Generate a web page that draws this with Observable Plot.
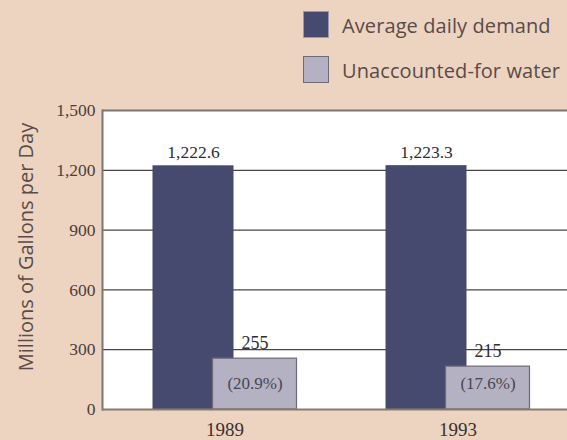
<!DOCTYPE html>
<html>
<head>
<meta charset="utf-8">
<script src="https://cdn.jsdelivr.net/npm/d3@7"></script>
<script src="https://cdn.jsdelivr.net/npm/@observablehq/plot@0.6"></script>
<style>
  html, body { margin: 0; padding: 0; background: #ecd4c1; }
  #wrap { width: 567px; height: 440px; position: relative; overflow: hidden; }
  #legend { position: relative; height: 100px; font-family: "Open Sans", sans-serif; color: #5a4a48; }
  .item { position: absolute; left: 303px; display: flex; align-items: center; }
  .sw { width: 26px; height: 27px; box-sizing: border-box; margin-right: 13px; }
  .lab { font-size: 20px; letter-spacing: 0.1px; white-space: nowrap; padding-top: 3px; }
  svg { display: block; }
</style>
</head>
<body>
<div id="wrap">
  <div id="legend"></div>
  <div id="chart"></div>
</div>
<script>
const years = ["1989", "1993"];
const seriesNames = ["Average daily demand", "Unaccounted-for water"];
const demand = [1222.6, 1223.3];
const unaccounted = [255, 215];
const unaccountedPct = ["(20.9%)", "(17.6%)"];
const demandLabels = ["1,222.6", "1,223.3"];
const yTicks = [0, 300, 600, 900, 1200, 1500];
const gridTicks = [300, 600, 900, 1200];
const yTitle = "Millions of Gallons per Day";

const colors = {dark: "#464a6f", light: "#b4b1c3", lightStroke: "#6e6a7a"};

// legend
const legend = document.getElementById("legend");
[[seriesNames[0], colors.dark, "#9a98aa", 9], [seriesNames[1], colors.light, colors.lightStroke, 54]].forEach(([name, fill, stroke, top]) => {
  const d = document.createElement("div");
  d.className = "item";
  d.style.top = top + "px";
  d.innerHTML = `<div class="sw" style="background:${fill};border:1.5px solid ${stroke}"></div><div class="lab">${name}</div>`;
  legend.appendChild(d);
});

const demandData = years.map((y, i) => ({year: y, value: demand[i], label: demandLabels[i]}));
const unaccData = years.map((y, i) => ({year: y, value: unaccounted[i], label: String(unaccounted[i]), pct: unaccountedPct[i]}));

const serif = "'Liberation Serif', 'DejaVu Serif', serif";

const chart = Plot.plot({
  width: 567,
  height: 340,
  marginTop: 10,
  marginBottom: 31,
  marginLeft: 102,
  marginRight: 0,
  style: {background: "transparent", overflow: "visible"},
  x: {type: "band", domain: years, range: [107.5, 573.5], padding: 0},
  y: {domain: [0, 1500], range: [309, 10]},
  marks: [
    Plot.frame({fill: "white", stroke: null}),
    Plot.ruleY(gridTicks, {stroke: "#4a4444", strokeWidth: 1.3}),
    Plot.ruleY([1500], {stroke: "#7d7572", strokeWidth: 2}),
    Plot.frame({anchor: "left", stroke: "#7d7572", strokeWidth: 2}),
    Plot.barY(demandData, {x: "year", y: "value", fill: colors.dark, insetLeft: 44.5, insetRight: 107.5}),
    Plot.barY(unaccData, {x: "year", y: "value", fill: colors.light, stroke: colors.lightStroke, strokeWidth: 1.2, insetLeft: 104.5, insetRight: 44.5}),
    Plot.ruleY([0], {stroke: "#8a7a70", strokeWidth: 2}),
    Plot.text(demandData, {x: "year", y: "value", text: "label", dx: -31.5, dy: -13, fontFamily: serif, fontSize: 17.5, fill: "#2f2c34"}),
    Plot.text(unaccData, {x: "year", y: "value", text: "label", dx: 30, dy: -15, fontFamily: serif, fontSize: 18, fill: "#2f2c34"}),
    Plot.text(unaccData, {x: "year", y: 0, text: "pct", dx: 30, dy: -26, fontFamily: serif, fontSize: 17, fill: "#4a4550"}),
    Plot.axisY({ticks: yTicks, tickFormat: d3.format(","), tickSize: 0, tickPadding: 7, fontFamily: serif, fontSize: 17.5, color: "#4a3e3a", label: null}),
    Plot.text([yTitle], {text: (d) => d, frameAnchor: "left", textAnchor: "middle", rotate: -90, dx: -76, dy: -13, fontFamily: "'Open Sans', sans-serif", fontSize: 20, fontWeight: 500, fill: "#5a4a48"}),
    Plot.axisX({tickSize: 0, tickPadding: 13, fontFamily: serif, fontSize: 19, color: "#3a3030", label: null})
  ]
});
document.getElementById("chart").appendChild(chart);
</script>
</body>
</html>
